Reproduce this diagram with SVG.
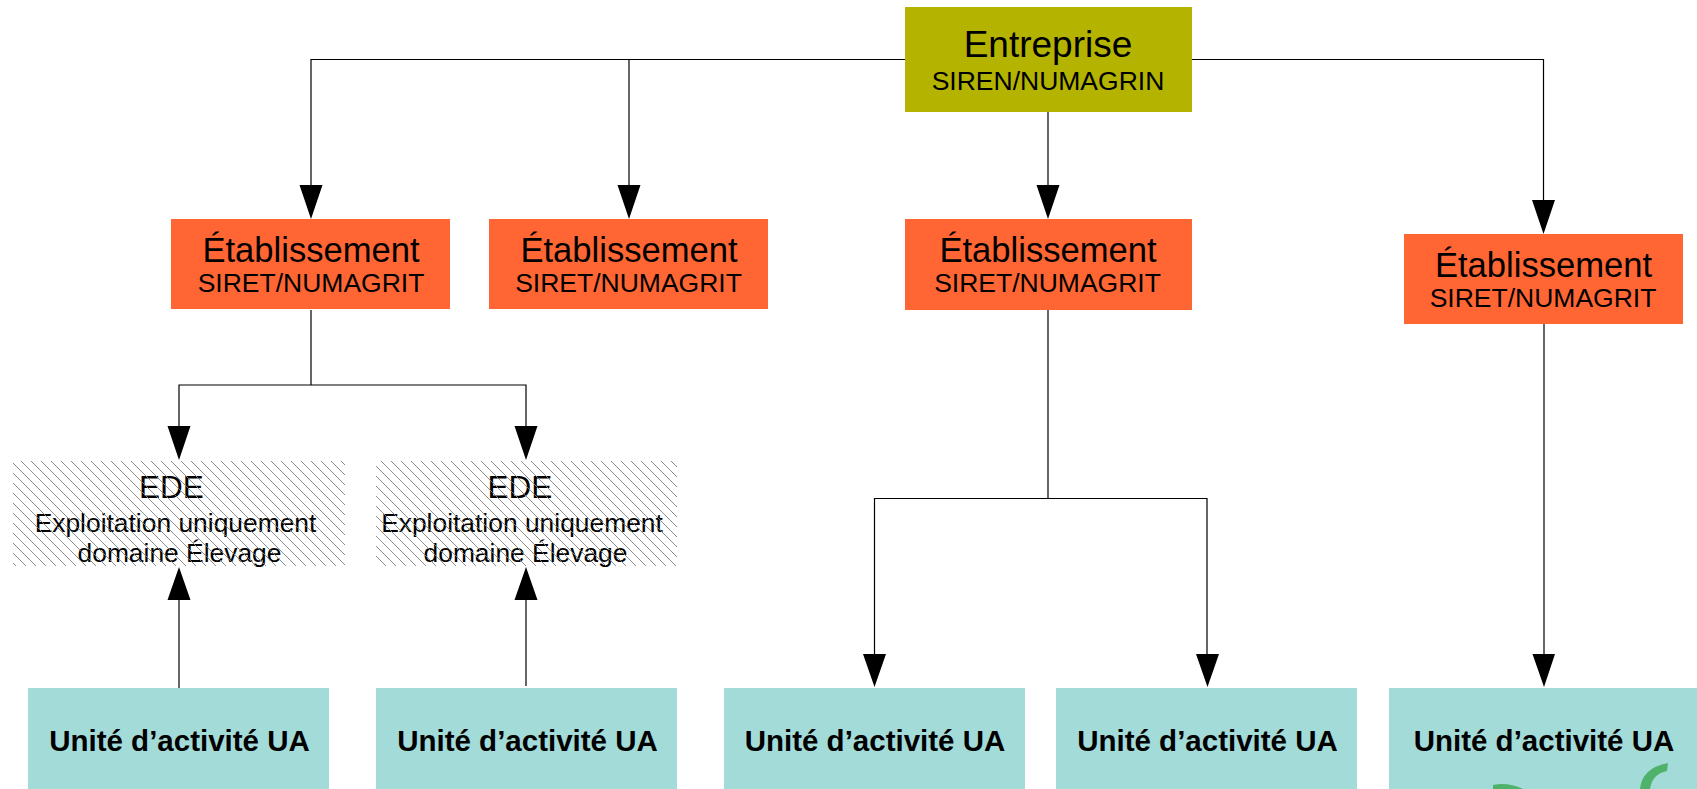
<svg xmlns="http://www.w3.org/2000/svg" width="1697" height="789" viewBox="0 0 1697 789">
<style>
text{font-family:"Liberation Sans",Arial,sans-serif;fill:#000;text-anchor:middle}
.t{font-size:34.6px}.n{font-size:37px}.s{font-size:26.5px}.e{font-size:31.500px}.m{font-size:26.400px}.u{font-size:29.500px;font-weight:bold}
.c{fill:none;stroke:#000;stroke-width:1.2}
.ent{fill:#b4b400}.eta{fill:#ff6633}.ua{fill:#a3dbd9}
</style>
<defs>
<pattern id="h" width="10" height="10" patternUnits="userSpaceOnUse">
<path d="M-2 -2L12 12M-2 8L2 12M8 -2L12 2" stroke="#808080" stroke-width="0.9" fill="none"/>
</pattern>
</defs>
<g id="connectors">
<path class="c" d="M905 59.500H311V185"/>
<path class="c" d="M629 59.500V185"/>
<path class="c" d="M1192 59.500H1543.500V200"/>
<path class="c" d="M1048 112V185"/>
<path class="c" d="M311 310V385M179 426V385H526V426"/>
<path class="c" d="M1048 310V498.500M874.500 654V498.500H1207V654"/>
<path class="c" d="M1544 324V654"/>
<path class="c" d="M179 688V600"/>
<path class="c" d="M526 686V600"/>
<path d="M299.500 185H322.500L311 219ZM617.500 185H640.500L629 219ZM1036.500 185H1059.500L1048 219ZM1532 200H1555L1543.500 234ZM167.500 426H190.500L179 460ZM514.500 426H537.500L526 460ZM863 654H886L874.500 687ZM1196 654H1219L1207.500 687ZM1532.500 654H1555L1544 687ZM167.500 600H190.500L179 567ZM514.500 600H537.500L526 567Z" fill="#000"/>
</g>
<g id="entreprise"><rect class="ent" x="905" y="7" width="287" height="105"/><text class="n" x="1048" y="57">Entreprise</text><text class="s" x="1048" y="90">SIREN/NUMAGRIN</text></g>
<g id="etab1"><rect class="eta" x="171" y="219" width="279" height="90"/><text class="t" x="311" y="262">Établissement</text><text class="s" x="311" y="292">SIRET/NUMAGRIT</text></g>
<g id="etab2"><rect class="eta" x="489" y="219" width="279" height="90"/><text class="t" x="629" y="262">Établissement</text><text class="s" x="628.500" y="292">SIRET/NUMAGRIT</text></g>
<g id="etab3"><rect class="eta" x="905" y="219" width="287" height="91"/><text class="t" x="1048" y="262">Établissement</text><text class="s" x="1047.500" y="292">SIRET/NUMAGRIT</text></g>
<g id="etab4"><rect class="eta" x="1404" y="234" width="279" height="90"/><text class="t" x="1543.500" y="277">Établissement</text><text class="s" x="1543" y="307">SIRET/NUMAGRIT</text></g>
<g id="ede1"><text class="e" x="171.500" y="498">EDE</text><text class="m" x="175.500" y="532">Exploitation uniquement</text><text class="m" x="179.500" y="562">domaine Élevage</text><rect fill="url(#h)" x="13" y="461" width="332" height="105"/></g>
<g id="ede2"><text class="e" x="520" y="498">EDE</text><text class="m" x="522" y="532">Exploitation uniquement</text><text class="m" x="525.500" y="562">domaine Élevage</text><rect fill="url(#h)" x="376" y="461" width="301" height="105"/></g>
<g id="ua1"><rect class="ua" x="28" y="688" width="301" height="101"/><text class="u" x="179.500" y="751">Unité d’activité UA</text></g>
<g id="ua2"><rect class="ua" x="376" y="688" width="301" height="101"/><text class="u" x="527.500" y="751">Unité d’activité UA</text></g>
<g id="ua3"><rect class="ua" x="724" y="688" width="301" height="101"/><text class="u" x="875" y="751">Unité d’activité UA</text></g>
<g id="ua4"><rect class="ua" x="1056" y="688" width="301" height="101"/><text class="u" x="1207.500" y="751">Unité d’activité UA</text></g>
<g id="ua5"><rect class="ua" x="1389" y="688" width="308" height="101"/><text class="u" x="1544" y="751">Unité d’activité UA</text></g>
<path d="M1493 785Q1508 782 1523 789H1493Z" fill="#4fb26b"/>
<path d="M1668 763L1667 771Q1652 774 1650 789H1640Q1642 768 1668 763Z" fill="#4fb26b"/>
</svg>
